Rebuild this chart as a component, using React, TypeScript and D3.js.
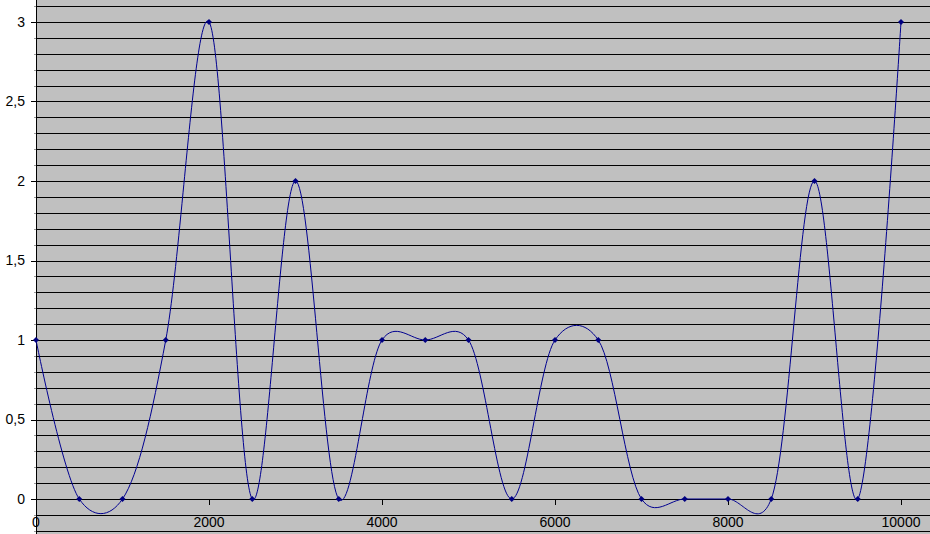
import React from "react";
import * as d3 from "d3";

const xValues = [0, 500, 1000, 1500, 2000, 2500, 3000, 3500, 4000, 4500, 5000, 5500, 6000, 6500, 7000, 7500, 8000, 8500, 9000, 9500, 10000];
const yValues = [1, 0, 0, 1, 3, 0, 2, 0, 1, 1, 1, 0, 1, 1, 0, 0, 0, 0, 2, 0, 3];
const xTicks = [0, 2000, 4000, 6000, 8000, 10000];
const yTicks = [0, 0.5, 1, 1.5, 2, 2.5, 3];

const W = 930;
const H = 534;

export default function App() {
  const x = d3.scaleLinear().domain([0, 10000]).range([36, 901]);
  const y = d3.scaleLinear().domain([0, 3]).range([499, 22]);
  const plotLeft = 36;

  const grid: number[] = [];
  for (let i = -3; i <= 32; i++) {
    const v = i / 10;
    const py = Math.round(y(v)) + 0.5;
    if (py >= 0 && py <= H) grid.push(py);
  }

  const data = xValues.map((xv, i) => [xv, yValues[i]] as [number, number]);
  const line = d3
    .line<[number, number]>()
    .x((d) => x(d[0]))
    .y((d) => y(d[1]))
    .curve(d3.curveCatmullRom.alpha(0.15));

  const fmt = (v: number) => String(v).replace(".", ",");

  return (
    <svg
      width={W}
      height={H}
      style={{ position: "absolute", left: 0, top: 0, display: "block" }}
      fontFamily="'Liberation Sans', Arial, sans-serif"
    >
      <rect x={0} y={0} width={W} height={H} fill="#ffffff" />
      <rect x={plotLeft} y={0} width={W - plotLeft} height={H} fill="#c0c0c0" />
      {grid.map((py, i) => (
        <line key={i} x1={plotLeft} x2={W} y1={py} y2={py} stroke="#000" strokeWidth={1} />
      ))}
      <line x1={plotLeft + 0.5} x2={plotLeft + 0.5} y1={0} y2={H} stroke="#000" strokeWidth={1} />
      {grid.map((py, i) => (
        <line key={"m" + i} x1={plotLeft - 2} x2={plotLeft} y1={py} y2={py} stroke="#999" strokeWidth={1} />
      ))}
      {yTicks.map((t) => (
        <g key={"y" + t}>
          <line x1={31} x2={plotLeft} y1={Math.round(y(t)) + 0.5} y2={Math.round(y(t)) + 0.5} stroke="#000" />
          <text x={25} y={y(t)} dy="0.35em" textAnchor="end" fontSize={14} fill="#000">
            {fmt(t)}
          </text>
        </g>
      ))}
      {xTicks.map((t) => (
        <g key={"x" + t}>
          <line x1={Math.round(x(t)) + 0.5} x2={Math.round(x(t)) + 0.5} y1={499} y2={505} stroke="#000" />
          <text x={x(t)} y={527} textAnchor="middle" fontSize={14} fill="#000">
            {t}
          </text>
        </g>
      ))}
      <path d={line(data) || ""} fill="none" stroke="#000090" strokeWidth={1} />
      {data.map((d, i) => {
        const cx = x(d[0]);
        const cy = y(d[1]);
        const r = 3;
        return (
          <path
            key={"p" + i}
            d={`M${cx},${cy - r}L${cx + r},${cy}L${cx},${cy + r}L${cx - r},${cy}Z`}
            fill="#000080"
          />
        );
      })}
    </svg>
  );
}
